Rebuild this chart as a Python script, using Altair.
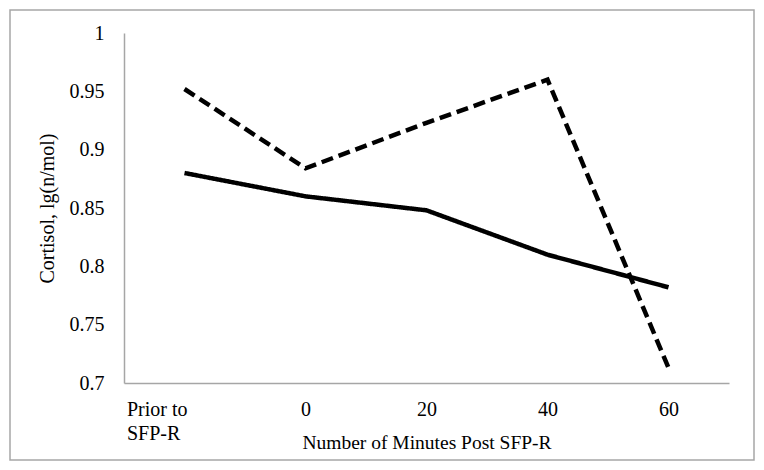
import altair as alt
import pandas as pd

categories = ["Prior to SFP-R", "0", "20", "40", "60"]
solid_values = [0.880, 0.860, 0.848, 0.810, 0.782]
dashed_values = [0.952, 0.884, 0.923, 0.960, 0.713]

rows = []
for c, v in zip(categories, solid_values):
    rows.append({"cat": c, "val": v, "series": "solid"})
for c, v in zip(categories, dashed_values):
    rows.append({"cat": c, "val": v, "series": "dashed"})
df = pd.DataFrame(rows)

FONT = "Liberation Serif"

lines = alt.Chart(df).mark_line(color="black", strokeWidth=4.5, strokeCap="butt").encode(
    x=alt.X("cat:N", sort=categories, scale=alt.Scale(type="point", padding=0.5),
            axis=alt.Axis(title="Number of Minutes Post SFP-R", labelAngle=0,
                          labelExpr="datum.value == 'Prior to SFP-R' ? ['Prior to', 'SFP-R'] : datum.value",
                          labelAlign=alt.ExprRef("datum.value == 'Prior to SFP-R' ? 'left' : 'center'"),
                          labelOffset=alt.ExprRef("datum.value == 'Prior to SFP-R' ? -58 : 0"),
                          labelBaseline="top", labelLineHeight=24,
                          labelFont="serif", labelFontSize=20, titleFont=FONT, titleFontSize=19.5,
                          ticks=False, labelPadding=16, titlePadding=-10,
                          domainColor="#a6a6a6", domainWidth=1.5)),
    y=alt.Y("val:Q", scale=alt.Scale(domain=[0.7, 1.0], nice=False, zero=False),
            axis=alt.Axis(title="Cortisol, lg(n/mol)", values=[0.7, 0.75, 0.8, 0.85, 0.9, 0.95, 1.0],
                          format="~g", ticks=False, labelPadding=20, grid=False,
                          labelFont="Times New Roman", labelFontSize=20, titleFont=FONT, titleFontSize=20,
                          titlePadding=12, domainColor="#a6a6a6", domainWidth=1.5)),
    strokeDash=alt.StrokeDash("series:N", scale=alt.Scale(domain=["solid", "dashed"], range=[[1, 0], [12, 6]]),
                              legend=None),
)

border = alt.Chart(pd.DataFrame({"a": [0]})).mark_rect(fill=None, stroke="#a6a6a6", strokeWidth=1.5).encode(
    x=alt.value(-114), x2=alt.value(630), y=alt.value(-23), y2=alt.value(427)
)

chart = alt.layer(border, lines).properties(
    width=605, height=350,
    padding={"left": 116, "top": 25, "right": 27, "bottom": 79},
    autosize=alt.AutoSizeParams(type="none"),
).configure_view(stroke=None).configure_axis(
    labelColor="black", titleColor="black", titleFontWeight="normal"
)

chart.save("out.html", embed_options={"renderer": "svg", "actions": False})
